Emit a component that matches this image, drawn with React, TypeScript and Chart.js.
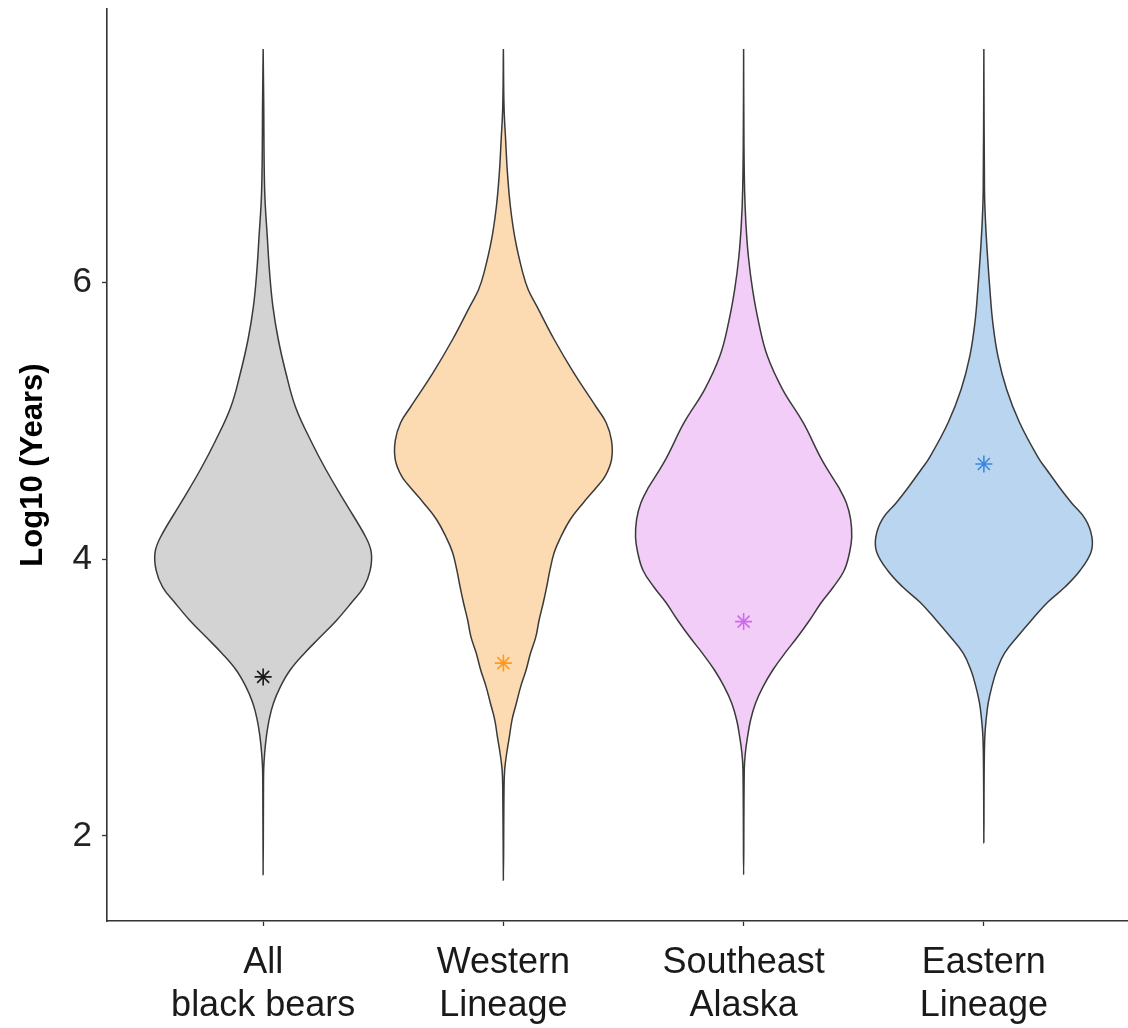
import React, { useEffect, useRef } from 'react';
import { Chart, registerables } from 'chart.js';

Chart.register(...registerables);

// ---- data ----
const CATEGORIES: string[][] = [
  ['All', 'black bears'],
  ['Western', 'Lineage'],
  ['Southeast', 'Alaska'],
  ['Eastern', 'Lineage'],
];
const Y_TICKS = [2, 4, 6];
const MARKER_VALUES = [3.15, 3.25, 3.55, 4.69];

// violin outlines: y levels (Log10 years) and relative density (1 = widest)
const ALL_LEVELS = [7.69, 7.32, 6.67, 6.31, 6.07, 5.83, 5.59, 5.35, 5.1, 4.86, 4.65, 4.41, 4.16, 4.05, 3.92, 3.8, 3.69, 3.56, 3.44, 3.32, 3.2, 3.08, 2.96, 2.84, 2.72, 2.6, 2.48, 2.3, 1.72];
const ALL_DENSITY = [0, 0.005, 0.014, 0.04, 0.06, 0.09, 0.14, 0.21, 0.3, 0.44, 0.58, 0.76, 0.95, 1.0, 0.99, 0.93, 0.82, 0.68, 0.53, 0.38, 0.25, 0.16, 0.095, 0.055, 0.03, 0.014, 0.005, 0.003, 0];

const WEST_LEVELS = [7.69, 7.27, 7.03, 6.8, 6.55, 6.31, 6.07, 5.95, 5.83, 5.59, 5.35, 5.1, 4.99, 4.86, 4.72, 4.6, 4.52, 4.41, 4.29, 4.16, 4.05, 3.92, 3.8, 3.69, 3.56, 3.44, 3.32, 3.2, 3.08, 2.96, 2.84, 2.72, 2.6, 2.48, 2.35, 1.68];
const WEST_DENSITY = [0, 0.006, 0.021, 0.037, 0.065, 0.11, 0.18, 0.23, 0.31, 0.47, 0.65, 0.86, 0.95, 1.0, 1.0, 0.94, 0.86, 0.74, 0.62, 0.53, 0.47, 0.43, 0.4, 0.37, 0.33, 0.3, 0.25, 0.21, 0.16, 0.12, 0.08, 0.056, 0.031, 0.012, 0.006, 0];

const SE_LEVELS = [7.69, 7.03, 6.67, 6.43, 6.19, 5.95, 5.71, 5.47, 5.23, 4.99, 4.74, 4.62, 4.52, 4.41, 4.29, 4.16, 4.05, 3.92, 3.8, 3.69, 3.56, 3.44, 3.32, 3.2, 3.08, 2.96, 2.84, 2.72, 2.6, 2.48, 1.72];
const SE_DENSITY = [0, 0.003, 0.009, 0.021, 0.044, 0.083, 0.14, 0.22, 0.36, 0.55, 0.71, 0.8, 0.88, 0.95, 0.99, 1.0, 0.98, 0.93, 0.83, 0.72, 0.61, 0.5, 0.38, 0.27, 0.18, 0.11, 0.065, 0.037, 0.016, 0.006, 0];

const EAST_LEVELS = [7.69, 6.67, 6.43, 6.19, 5.95, 5.71, 5.47, 5.23, 4.99, 4.74, 4.65, 4.52, 4.41, 4.29, 4.16, 4.05, 3.92, 3.8, 3.69, 3.56, 3.44, 3.32, 3.2, 3.08, 2.96, 2.84, 2.72, 2.48, 1.95];
const EAST_DENSITY = [0, 0.006, 0.016, 0.034, 0.056, 0.083, 0.13, 0.21, 0.33, 0.5, 0.58, 0.7, 0.81, 0.94, 1.0, 0.99, 0.89, 0.75, 0.59, 0.44, 0.31, 0.19, 0.12, 0.074, 0.04, 0.021, 0.009, 0.003, 0];

const LEVELS = [ALL_LEVELS, WEST_LEVELS, SE_LEVELS, EAST_LEVELS];
const DENSITIES = [ALL_DENSITY, WEST_DENSITY, SE_DENSITY, EAST_DENSITY];

// ---- styles ----
const FILL_COLORS = ['#D3D3D3', '#FDDBB2', '#F1CDF8', '#B9D5F0'];
const MARKER_COLORS = ['#1a1a1a', '#FF9A1F', '#CF6AEF', '#3A88DC'];
const HALF_WIDTH = 0.45;
const FONT = '"Liberation Sans", Arial, Helvetica, sans-serif';

export default function App() {
  const ref = useRef<HTMLCanvasElement | null>(null);

  useEffect(() => {
    if (!ref.current) return;

    const violins = CATEGORIES.map((_, i) => {
      const lv = LEVELS[i];
      const dn = DENSITIES[i];
      const c = i + 1;
      const right = lv.map((y, k) => ({ x: c + HALF_WIDTH * dn[k], y }));
      const left = lv
        .slice(0, -1)
        .map((y, k) => ({ x: c - HALF_WIDTH * dn[k], y }))
        .reverse();
      return {
        type: 'line' as const,
        data: [...right, ...left],
        fill: 'shape',
        backgroundColor: FILL_COLORS[i],
        borderColor: '#3a3a3a',
        borderWidth: 1.5,
        pointRadius: 0,
        pointHoverRadius: 0,
        tension: 0.4,
        order: 1,
      };
    });

    const markers = {
      type: 'scatter' as const,
      data: CATEGORIES.map((_, i) => ({ x: i + 1, y: MARKER_VALUES[i] })),
      pointStyle: 'star',
      pointRadius: 8.5,
      pointBorderWidth: 1.6,
      pointBorderColor: MARKER_COLORS,
      pointBackgroundColor: MARKER_COLORS,
      showLine: false,
      order: 0,
    };

    const chart = new Chart(ref.current, {
      type: 'scatter',
      data: { datasets: [markers as any, ...(violins as any[])] },
      options: {
        animation: false,
        responsive: false,
        devicePixelRatio: 1,
        layout: { autoPadding: false, padding: { top: 9, left: 0, right: 0, bottom: 0 } },
        plugins: {
          legend: { display: false },
          tooltip: { enabled: false },
        },
        scales: {
          x: {
            type: 'linear',
            min: 0.35,
            max: 4.6,
            afterFit: (s: any) => {
              s.height = 107;
              s.paddingLeft = 0;
              s.paddingRight = 0;
              s.paddingTop = 0;
              s.paddingBottom = 0;
            },
            afterBuildTicks: (s: any) => {
              s.ticks = CATEGORIES.map((_, i) => ({ value: i + 1 }));
            },
            ticks: {
              autoSkip: false,
              maxRotation: 0,
              padding: 15,
              color: '#1a1a1a',
              font: { family: FONT, size: 36, lineHeight: 1.2 },
              callback: (_v: any, index: number) => CATEGORIES[index],
            },
            grid: {
              display: true,
              drawOnChartArea: false,
              drawTicks: true,
              tickLength: 5,
              tickColor: '#333',
              tickWidth: 1.3,
            },
            border: { display: true, color: '#333', width: 1.6 },
          },
          y: {
            type: 'linear',
            min: 1.385,
            max: 7.98,
            afterFit: (s: any) => {
              s.width = 107;
              s.paddingLeft = 0;
              s.paddingRight = 0;
              s.paddingTop = 0;
              s.paddingBottom = 0;
            },
            afterBuildTicks: (s: any) => {
              s.ticks = Y_TICKS.map((v) => ({ value: v }));
            },
            ticks: {
              padding: 10,
              color: '#222',
              font: { family: FONT, size: 35 },
              callback: (v: any) => String(v),
            },
            grid: {
              display: true,
              drawOnChartArea: false,
              drawTicks: true,
              tickLength: 5,
              tickColor: '#333',
              tickWidth: 1.3,
            },
            border: { display: true, color: '#333', width: 1.6 },
            title: {
              display: true,
              text: 'Log10 (Years)',
              color: '#000',
              font: { family: FONT, size: 31, weight: 'bold', lineHeight: 1.2 },
              padding: { top: 15, bottom: 0 },
            },
          },
        },
      } as any,
    });

    return () => chart.destroy();
  }, []);

  return (
    <div style={{ position: 'absolute', left: 0, top: 0, width: 1128, height: 1028, background: '#fff' }}>
      <canvas ref={ref} width={1128} height={1028} />
    </div>
  );
}
